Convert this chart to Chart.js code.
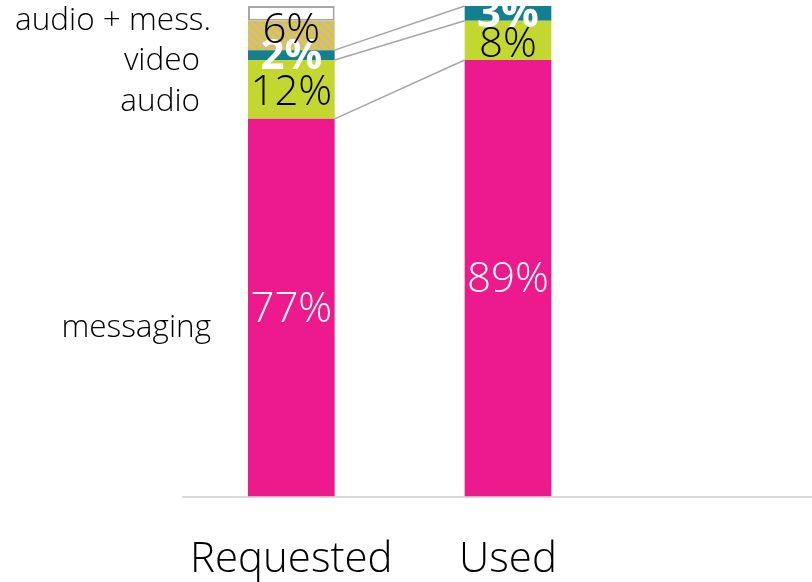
<!DOCTYPE html>
<html>
<head>
<meta charset="utf-8">
<script src="https://cdn.jsdelivr.net/npm/chart.js@4"></script>
<style>
  html, body { margin: 0; padding: 0; background: #fff; overflow: hidden; }
  #wrap { width: 812px; height: 582px; overflow: hidden; position: relative; }
  canvas { display: block; }
</style>
</head>
<body>
<div id="wrap"><canvas id="c" width="833" height="626"></canvas></div>
<script>
// Categories along the x axis (the third slot is left empty)
const categories = ['Requested', 'Used', ''];

// Share of each communication mode, in percent
const messaging = [77, 89, null];
const audio     = [12, 8, null];
const video     = [2, 3, null];
const audioMess = [6, 0, null];
const other     = [3, 0, null];

// Series names written to the left of the first bar
const seriesNames = ['messaging', 'audio', 'video', 'audio + mess.'];

const FONT = "'Open Sans', 'Segoe UI', sans-serif";
const PINK = '#ec1a8c';
const LIME = '#c3d730';
const TEAL = '#12808f';
const GREY = '#a6a6a6';

// Lime fill with light pink diagonal stripes running down to the right
function stripePattern() {
  const s = 8, w = 3;
  const pc = document.createElement('canvas');
  pc.width = s; pc.height = s;
  const g = pc.getContext('2d');
  for (let y = 0; y < s; y++) {
    for (let x = 0; x < s; x++) {
      g.fillStyle = (((x - y) % s + s) % s) < w ? '#f09cc8' : LIME;
      g.fillRect(x, y, 1, 1);
    }
  }
  return g.createPattern(pc, 'repeat');
}

const labelStyle = [
  { color: '#fff', weight: '300' },
  { color: '#000', weight: '300' },
  { color: '#fff', weight: 'bold' },
  { color: '#000', weight: '300' }
];
// small vertical nudges so neighbouring labels do not collide
const labelNudge = { '1-0': 2, '1-1': 3, '3-0': -6 };

// Writes the percentage inside each segment
const valueLabels = {
  id: 'valueLabels',
  afterDatasetsDraw(chart) {
    const ctx = chart.ctx;
    ctx.save();
    ctx.textAlign = 'center';
    ctx.textBaseline = 'middle';
    labelStyle.forEach((st, di) => {
      const meta = chart.getDatasetMeta(di);
      const ds = chart.data.datasets[di];
      meta.data.forEach((bar, i) => {
        const v = ds.data[i];
        if (!v) return;
        const y = (bar.y + bar.base) / 2 + (labelNudge[di + '-' + i] || 0);
        ctx.font = st.weight + ' 42px ' + FONT;
        ctx.fillStyle = st.color;
        ctx.fillText(v + '%', bar.x, y + 2);
      });
    });
    ctx.restore();
  }
};

// Connector lines between matching segment tops of the two bars,
// plus the series names at the left
const connectors = {
  id: 'connectors',
  afterDatasetsDraw(chart) {
    const ctx = chart.ctx;
    ctx.save();
    ctx.strokeStyle = GREY;
    ctx.lineWidth = 1.5;
    [0, 1, 2].forEach(di => {
      const meta = chart.getDatasetMeta(di);
      const a = meta.data[0], b = meta.data[1];
      ctx.beginPath();
      ctx.moveTo(a.x + a.width / 2, a.y);
      ctx.lineTo(b.x - b.width / 2, b.y);
      ctx.stroke();
    });

    const yOff = [20, 13, 6, -14];
    const xRight = [211, 200, 200, 211];
    ctx.font = '300 31.5px ' + FONT;
    ctx.fillStyle = '#000';
    ctx.textAlign = 'right';
    ctx.textBaseline = 'middle';
    seriesNames.forEach((name, di) => {
      const bar = chart.getDatasetMeta(di).data[0];
      ctx.fillText(name, xRight[di], (bar.y + bar.base) / 2 + yOff[di]);
    });
    ctx.restore();
  }
};

const ctx = document.getElementById('c').getContext('2d');
new Chart(ctx, {
  type: 'bar',
  data: {
    labels: categories,
    datasets: [
      { label: 'messaging', data: messaging, backgroundColor: PINK, borderWidth: 0 },
      { label: 'audio', data: audio, backgroundColor: LIME, borderWidth: 0 },
      { label: 'video', data: video, backgroundColor: TEAL, borderWidth: 0 },
      { label: 'audio + mess.', data: audioMess, backgroundColor: stripePattern(), borderWidth: 0 },
      { label: 'other', data: other, backgroundColor: '#fff', borderColor: GREY, borderWidth: 2, borderSkipped: false }
    ]
  },
  options: {
    responsive: false,
    animation: false,
    layout: { padding: { left: 183, right: 0, top: 6, bottom: 3 } },
    datasets: { bar: { categoryPercentage: 1, barPercentage: 0.4 } },
    plugins: { legend: { display: false }, tooltip: { enabled: false } },
    scales: {
      x: {
        stacked: true,
        grid: { display: false, drawTicks: false },
        border: { display: true, color: '#d9d9d9', width: 2 },
        ticks: { color: '#000', padding: 38, font: { family: FONT, size: 42, weight: '300' } }
      },
      y: { stacked: true, display: false, min: 0, max: 100 }
    }
  },
  plugins: [valueLabels, connectors]
});
</script>
</body>
</html>
